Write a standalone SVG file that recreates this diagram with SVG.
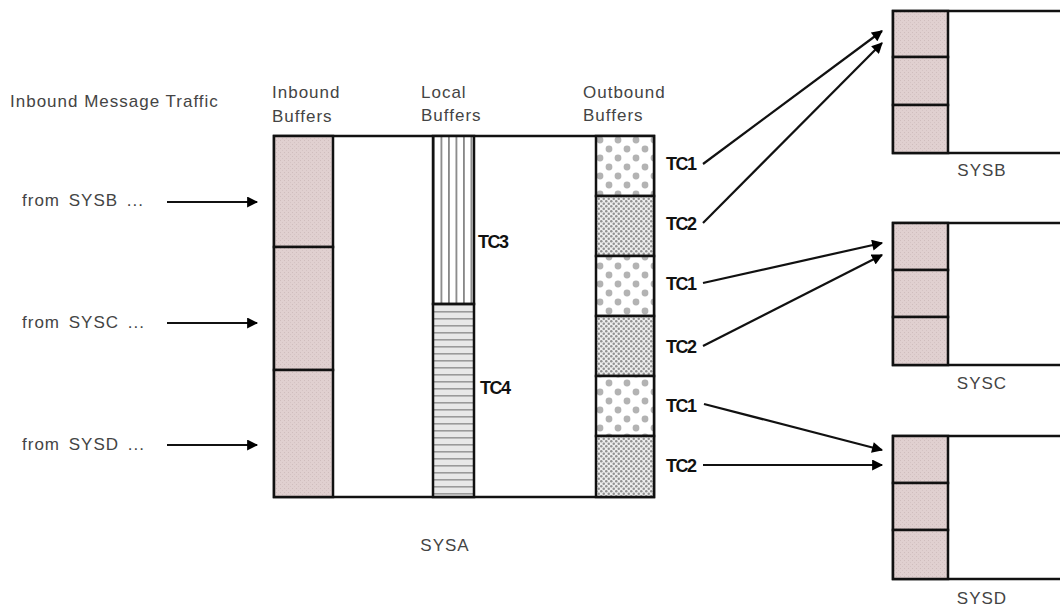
<svg xmlns="http://www.w3.org/2000/svg" width="1060" height="607" viewBox="0 0 1060 607">
<defs>
<pattern id="pink" width="4" height="4" patternUnits="userSpaceOnUse">
<rect width="4" height="4" fill="#e0d0d0"/>
<rect x="0" y="0" width="1" height="1" fill="#cfbdbd"/>
<rect x="2" y="2" width="1" height="1" fill="#d4c3c3"/>
</pattern>
<pattern id="vstripe" x="433" width="7.5" height="10" patternUnits="userSpaceOnUse">
<rect width="7.5" height="10" fill="#ffffff"/>
<rect x="0" y="0" width="1.8" height="10" fill="#888"/>
</pattern>
<pattern id="hstripe" y="304" width="10" height="7" patternUnits="userSpaceOnUse">
<rect width="10" height="7" fill="#e8e8e8"/>
<rect x="0" y="0" width="10" height="1.6" fill="#9a9a9a"/>
</pattern>
<pattern id="bigdot" x="596" y="136" width="18" height="18" patternUnits="userSpaceOnUse">
<rect width="18" height="18" fill="#ffffff"/>
<circle cx="4" cy="4" r="3.4" fill="#b3b3b3"/>
<circle cx="13" cy="13" r="3.4" fill="#b3b3b3"/>
</pattern>
<pattern id="smalldot" width="5" height="5" patternUnits="userSpaceOnUse">
<rect width="5" height="5" fill="#eeeeee"/>
<circle cx="1.25" cy="1.25" r="1.25" fill="#919191"/>
<circle cx="3.75" cy="3.75" r="1.25" fill="#919191"/>
</pattern>
<marker id="ah" viewBox="0 0 10 10" refX="9" refY="5" markerWidth="5.5" markerHeight="5" orient="auto" markerUnits="strokeWidth">
<path d="M0,0 L10,5 L0,10 z" fill="#000"/>
</marker>
</defs>
<style>
.t{font-family:"Liberation Sans",Arial,sans-serif;font-size:17px;fill:#444;letter-spacing:1px}
.tc{font-family:"Liberation Sans Narrow","Liberation Sans",sans-serif;font-size:18px;font-weight:bold;fill:#111;letter-spacing:-1.5px}
.box{fill:#fff;stroke:#111;stroke-width:2.5}
.cell{stroke:#111;stroke-width:2.5}
.conn line{stroke:#111;stroke-width:2.2;marker-end:url(#ah)}
</style>

<g id="labels">
<text class="t" x="10" y="107">Inbound Message Traffic</text>
<text class="t" x="22" y="206" word-spacing="3">from SYSB ...</text>
<text class="t" x="22" y="328" word-spacing="3">from SYSC ...</text>
<text class="t" x="22" y="450" word-spacing="3">from SYSD ...</text>
<text class="t" x="272" y="98">Inbound</text>
<text class="t" x="272" y="122">Buffers</text>
<text class="t" x="421" y="98">Local</text>
<text class="t" x="421" y="121">Buffers</text>
<text class="t" x="583" y="98">Outbound</text>
<text class="t" x="583" y="121">Buffers</text>
</g>

<g id="SYSA">
<rect class="box" x="274" y="136" width="380" height="361"/>
<rect class="cell" x="274" y="136" width="59" height="111" fill="url(#pink)"/>
<rect class="cell" x="274" y="247" width="59" height="123" fill="url(#pink)"/>
<rect class="cell" x="274" y="370" width="59" height="127" fill="url(#pink)"/>
<rect class="cell" x="433" y="136" width="41" height="168" fill="url(#vstripe)"/>
<rect class="cell" x="433" y="304" width="41" height="193" fill="url(#hstripe)"/>
<text class="tc" x="478" y="248">TC3</text>
<text class="tc" x="480" y="394">TC4</text>
<rect class="cell" x="596" y="136" width="58" height="60" fill="url(#bigdot)"/>
<rect class="cell" x="596" y="196" width="58" height="60" fill="url(#smalldot)"/>
<rect class="cell" x="596" y="256" width="58" height="60" fill="url(#bigdot)"/>
<rect class="cell" x="596" y="316" width="58" height="60" fill="url(#smalldot)"/>
<rect class="cell" x="596" y="376" width="58" height="60" fill="url(#bigdot)"/>
<rect class="cell" x="596" y="436" width="58" height="61" fill="url(#smalldot)"/>
<text class="tc" x="666" y="170">TC1</text>
<text class="tc" x="666" y="230">TC2</text>
<text class="tc" x="666" y="290">TC1</text>
<text class="tc" x="666" y="353">TC2</text>
<text class="tc" x="666" y="412">TC1</text>
<text class="tc" x="666" y="472">TC2</text>
<text class="t" x="445" y="551" text-anchor="middle">SYSA</text>
</g>

<g id="SYSB">
<rect class="box" x="893" y="11" width="180" height="142"/>
<rect class="cell" x="893" y="11" width="55" height="46" fill="url(#pink)"/>
<rect class="cell" x="893" y="57" width="55" height="48" fill="url(#pink)"/>
<rect class="cell" x="893" y="105" width="55" height="48" fill="url(#pink)"/>
<text class="t" x="982" y="176" text-anchor="middle">SYSB</text>
</g>

<g id="SYSC">
<rect class="box" x="893" y="223" width="180" height="142"/>
<rect class="cell" x="893" y="223" width="55" height="47" fill="url(#pink)"/>
<rect class="cell" x="893" y="270" width="55" height="47" fill="url(#pink)"/>
<rect class="cell" x="893" y="317" width="55" height="48" fill="url(#pink)"/>
<text class="t" x="982" y="389" text-anchor="middle">SYSC</text>
</g>

<g id="SYSD">
<rect class="box" x="893" y="436" width="180" height="143"/>
<rect class="cell" x="893" y="436" width="55" height="47" fill="url(#pink)"/>
<rect class="cell" x="893" y="483" width="55" height="47" fill="url(#pink)"/>
<rect class="cell" x="893" y="530" width="55" height="49" fill="url(#pink)"/>
<text class="t" x="982" y="604" text-anchor="middle">SYSD</text>
</g>

<g id="connectors" class="conn">
<line x1="167" y1="202" x2="257" y2="202"/>
<line x1="167" y1="323" x2="257" y2="323"/>
<line x1="167" y1="445" x2="257" y2="445"/>
<line x1="703" y1="164" x2="882" y2="31"/>
<line x1="703" y1="223" x2="882" y2="43"/>
<line x1="703" y1="283" x2="882" y2="243"/>
<line x1="703" y1="346" x2="882" y2="255"/>
<line x1="704" y1="404" x2="882" y2="450"/>
<line x1="703" y1="465" x2="882" y2="465"/>
</g>
</svg>
